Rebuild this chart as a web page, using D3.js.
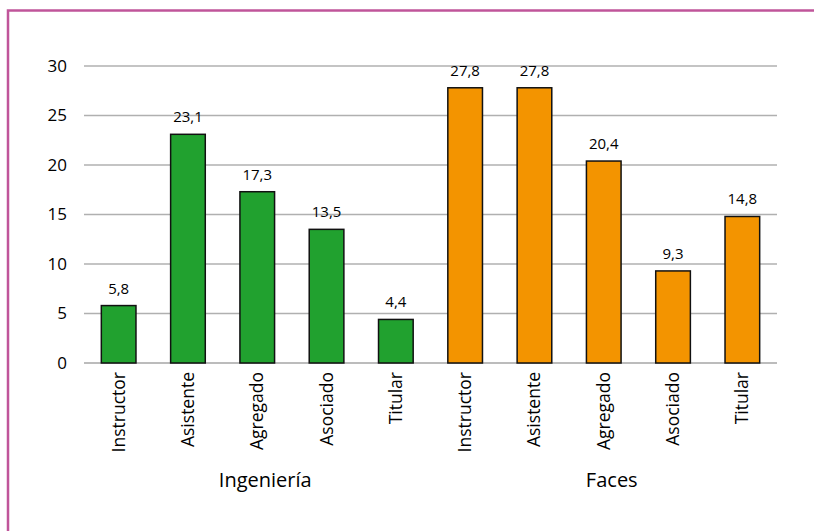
<!DOCTYPE html>
<html>
<head>
<meta charset="utf-8">
<script src="https://cdn.jsdelivr.net/npm/d3@7"></script>
<style>
  body { margin: 0; background: #fff; }
  svg { display: block; font-family: "Open Sans", "Noto Sans", sans-serif; }
</style>
</head>
<body>
<div id="chart"></div>
<script>
// data
var groups = ["Ingeniería", "Faces"]
var categories = ["Instructor", "Asistente", "Agregado", "Asociado", "Titular"]
var ingenieria = [5.8, 23.1, 17.3, 13.5, 4.4]
var faces = [27.8, 27.8, 20.4, 9.3, 14.8]
var yTicks = [0, 5, 10, 15, 20, 25, 30]
var groupColors = ["#21a12f", "#f39400"]

var width = 814
var height = 531
var margin = ({top: 66, right: 37, bottom: 168, left: 84})

var rows = []
groups.forEach(function (g, gi) {
  var vals = gi == 0 ? ingenieria : faces
  categories.forEach(function (c, ci) {
    rows.push({group: g, gi: gi, cat: c, key: g + "-" + c, value: vals[ci]})
  })
})

var svg = d3.select("#chart").append("svg")
  .attr("width", width)
  .attr("height", height)

// frame
svg.append("rect")
  .attr("x", 8).attr("y", 10.5)
  .attr("width", width).attr("height", height)
  .attr("fill", "none")
  .attr("stroke", "#c0559a")
  .attr("stroke-width", 2.5)

var x = d3.scaleBand()
  .domain(rows.map(d => d.key))
  .range([margin.left, width - margin.right])
  .paddingInner(0.5)
  .paddingOuter(0.25)

var y = d3.scaleLinear()
  .domain([0, 30])
  .range([height - margin.bottom, margin.top])

// grid
svg.append("g")
  .selectAll("line")
  .data(yTicks)
  .join("line")
    .attr("x1", margin.left)
    .attr("x2", width - margin.right)
    .attr("y1", d => y(d))
    .attr("y2", d => y(d))
    .attr("stroke", d => d == 0 ? "#a6a6a6" : "#b0b0b0")
    .attr("stroke-width", 1.5)

// y axis labels
svg.append("g")
  .selectAll("text")
  .data(yTicks)
  .join("text")
    .attr("x", 67)
    .attr("y", d => y(d))
    .attr("dy", "0.35em")
    .attr("text-anchor", "end")
    .attr("font-size", 17)
    .attr("fill", "#000")
    .text(d => d)

// bars
svg.append("g")
  .selectAll("rect")
  .data(rows)
  .join("rect")
    .attr("x", d => x(d.key))
    .attr("y", d => y(d.value))
    .attr("width", x.bandwidth())
    .attr("height", d => y(0) - y(d.value))
    .attr("fill", d => groupColors[d.gi])
    .attr("stroke", "#111")
    .attr("stroke-width", 1.5)

// value labels
svg.append("g")
  .selectAll("text")
  .data(rows)
  .join("text")
    .attr("x", d => x(d.key) + x.bandwidth() / 2)
    .attr("y", d => y(d.value) - 12)
    .attr("text-anchor", "middle")
    .attr("font-size", 15)
    .text(d => String(d.value).replace(".", ","))

// category labels, rotated
svg.append("g")
  .selectAll("text")
  .data(rows)
  .join("text")
    .attr("transform", d => `translate(${x(d.key) + x.bandwidth() / 2 + 6},${y(0) + 9}) rotate(-90)`)
    .attr("text-anchor", "end")
    .attr("font-size", 17.5)
    .text(d => d.cat)

// group labels
svg.append("g")
  .selectAll("text")
  .data(groups)
  .join("text")
    .attr("x", g => x(g + "-" + categories[2]) + x.bandwidth() / 2 + 8)
    .attr("y", 487)
    .attr("text-anchor", "middle")
    .attr("font-size", 20)
    .text(g => g)
</script>
</body>
</html>
